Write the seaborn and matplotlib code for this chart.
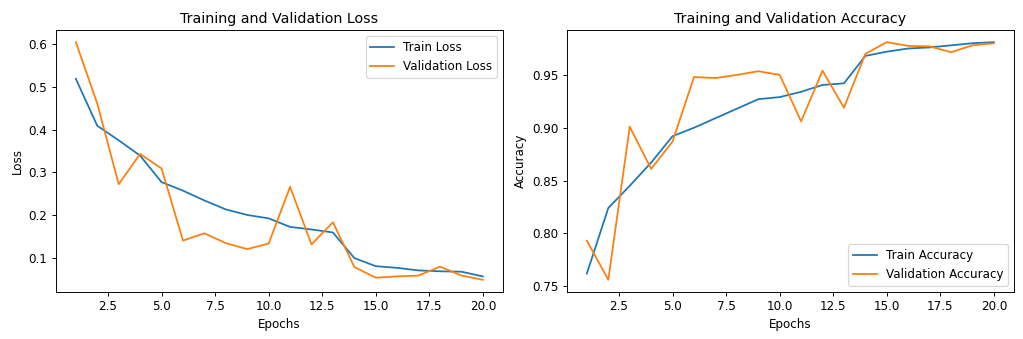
import numpy as np
import pandas as pd
import matplotlib
matplotlib.use("Agg")
import matplotlib.pyplot as plt
import seaborn as sns

epochs = list(range(1, 21))

train_loss = [0.519, 0.409, 0.375, 0.339, 0.277, 0.257, 0.234, 0.213, 0.200, 0.192,
              0.172, 0.166, 0.159, 0.099, 0.080, 0.076, 0.070, 0.068, 0.067, 0.056]
val_loss = [0.605, 0.461, 0.272, 0.343, 0.309, 0.140, 0.157, 0.134, 0.120, 0.133,
            0.266, 0.131, 0.183, 0.078, 0.053, 0.056, 0.058, 0.079, 0.058, 0.048]

train_acc = [0.762, 0.824, 0.845, 0.867, 0.892, 0.900, 0.909, 0.918, 0.927, 0.929,
             0.934, 0.9405, 0.942, 0.968, 0.972, 0.975, 0.976, 0.978, 0.980, 0.981]
val_acc = [0.793, 0.756, 0.901, 0.861, 0.887, 0.948, 0.947, 0.950, 0.9535, 0.950,
           0.906, 0.954, 0.919, 0.970, 0.981, 0.9775, 0.977, 0.9715, 0.978, 0.980]

blue, orange = "#1f77b4", "#ff7f0e"

fig, (ax1, ax2) = plt.subplots(1, 2, figsize=(12, 3.973), dpi=85.333)

sns.lineplot(x=epochs, y=train_loss, ax=ax1, color=blue, label="Train Loss")
sns.lineplot(x=epochs, y=val_loss, ax=ax1, color=orange, label="Validation Loss")
ax1.set_title("Training and Validation Loss")
ax1.set_xlabel("Epochs")
ax1.set_ylabel("Loss")
ax1.legend(loc="upper right")

sns.lineplot(x=epochs, y=train_acc, ax=ax2, color=blue, label="Train Accuracy")
sns.lineplot(x=epochs, y=val_acc, ax=ax2, color=orange, label="Validation Accuracy")
ax2.set_title("Training and Validation Accuracy")
ax2.set_xlabel("Epochs")
ax2.set_ylabel("Accuracy")
ax2.legend(loc="lower right")

fig.subplots_adjust(left=0.0542, right=0.9905, top=0.9106, bottom=0.1395, wspace=0.1414)
fig.savefig("out.png", dpi=85.333)
